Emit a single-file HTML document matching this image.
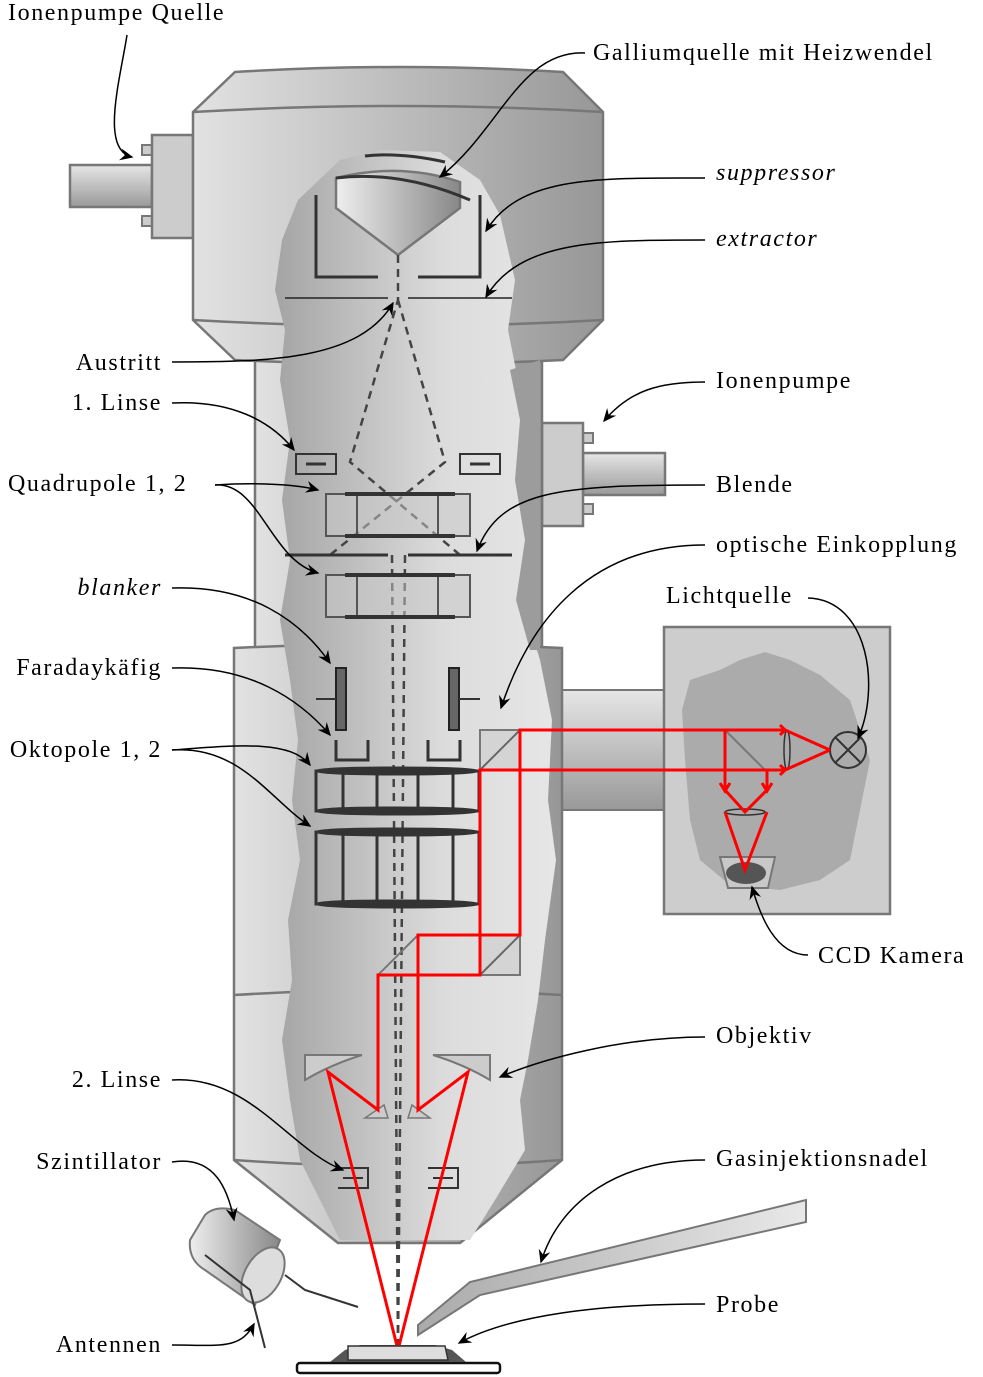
<!DOCTYPE html>
<html><head><meta charset="utf-8"><style>
html,body{margin:0;padding:0;background:#fff;}
svg{display:block;}
text{font-family:"Liberation Serif",serif;font-size:24px;letter-spacing:1.6px;fill:#000;}
.it{font-style:italic;}
.ar{fill:none;stroke:#000;stroke-width:1.5;marker-end:url(#ah);}
.dk{fill:none;stroke:#333;stroke-width:3;}
.rd{fill:none;stroke:#f00;stroke-width:3;}
.dash{fill:none;stroke:#444;stroke-width:2.5;stroke-dasharray:8,6;}
</style></head><body>
<svg width="983" height="1377" viewBox="0 0 983 1377">
<defs>
<marker id="ah" markerWidth="10" markerHeight="10" refX="8" refY="5" orient="auto"><path d="M0,1 L9,5 L0,9 L3,5z" fill="#000"/></marker>
<linearGradient id="outer" x1="0" x2="1"><stop offset="0" stop-color="#e2e2e2"/><stop offset="1" stop-color="#979797"/></linearGradient>
<linearGradient id="inner" x1="0" x2="1"><stop offset="0" stop-color="#a4a4a4"/><stop offset="0.6" stop-color="#dcdcdc"/><stop offset="1" stop-color="#e6e6e6"/></linearGradient>
<linearGradient id="tubeV" x1="0" y1="0" x2="0" y2="1"><stop offset="0" stop-color="#e6e6e6"/><stop offset="1" stop-color="#999"/></linearGradient>
<linearGradient id="cone" x1="0" x2="1"><stop offset="0" stop-color="#eee"/><stop offset="1" stop-color="#888"/></linearGradient>
<linearGradient id="needle" x1="0" x2="1"><stop offset="0" stop-color="#aaa"/><stop offset="1" stop-color="#e8e8e8"/></linearGradient>
</defs>

<g>
<rect x="70" y="165" width="82" height="42" fill="url(#tubeV)" stroke="#777" stroke-width="2.5"/>
<rect x="142" y="145" width="10" height="10" fill="#ccc" stroke="#777" stroke-width="2"/>
<rect x="142" y="216" width="10" height="10" fill="#ccc" stroke="#777" stroke-width="2"/>
<rect x="152" y="135" width="41" height="103" fill="#ccc" stroke="#777" stroke-width="2.5"/>
</g>
<g>
<rect x="583" y="453" width="82" height="42" fill="url(#tubeV)" stroke="#777" stroke-width="2.5"/>
<rect x="583" y="433" width="10" height="10" fill="#ccc" stroke="#777" stroke-width="2"/>
<rect x="583" y="504" width="10" height="10" fill="#ccc" stroke="#777" stroke-width="2"/>
<rect x="542" y="423" width="41" height="103" fill="#ccc" stroke="#777" stroke-width="2.5"/>
</g>
<rect x="560" y="690" width="105" height="120" fill="url(#tubeV)" stroke="#777" stroke-width="2"/>

<rect x="255" y="355" width="287" height="295" fill="url(#outer)" stroke="#777" stroke-width="2.5"/>
<path d="M193,112 L235,72 Q400,62 563,72 L603,112 L603,320 L563,360 Q400,368 235,360 L193,320 Z" fill="url(#outer)" stroke="#777" stroke-width="2.5"/>
<path d="M193,112 Q400,100 603,112 M193,320 Q400,332 603,320" fill="none" stroke="#777" stroke-width="2.5"/>
<path d="M234,648 Q400,640 562,648 L562,1160 L460,1243 L338,1243 L234,1160 Z" fill="url(#outer)" stroke="#777" stroke-width="2.5"/>
<path d="M234,995 Q400,985 562,995 M234,1160 Q400,1172 562,1160" fill="none" stroke="#777" stroke-width="2.5"/>

<path d="M340,160 L380,150 L440,152 L480,180 L500,215 L515,280 L508,330 L516,370 L525,420 L520,480 L530,540 L522,600 L540,660 L552,720 L548,800 L556,860 L545,940 L538,1000 L528,1060 L520,1100 L525,1150 L495,1200 L470,1240 L340,1240 L320,1200 L300,1160 L290,1100 L282,1040 L292,980 L288,920 L300,860 L292,800 L298,740 L290,680 L280,620 L290,560 L282,500 L290,440 L280,380 L285,330 L275,290 L282,240 L298,200 Z" fill="url(#inner)"/>
<path d="M510,370 L520,420 L515,480 L525,540 L516,600 L530,650 L540,650 L540,360 Z" fill="#9c9c9c"/>

<g>
<path d="M365,156 Q400,152 445,162" class="dk" stroke-width="3"/>
<path d="M336,178 Q400,162 460,182 L460,208 L398,255 L336,208 Z" fill="url(#cone)" stroke="#777" stroke-width="2.5"/>
<path d="M336,178 Q400,170 470,200" class="dk"/>
<path d="M316,195 L316,277 L378,277 M480,195 L480,277 L418,277" class="dk"/>
<path d="M285,298 L388,298 M408,298 L512,298" stroke="#222" stroke-width="1.5"/>
</g>

<path d="M398,255 L398,300 L350,462 L460,555 M398,300 L445,462 L330,555 M392,555 L398,1350 M405,555 L398,1350" class="dash"/>

<g>
<rect x="296" y="454" width="40" height="20" fill="none" stroke="#333" stroke-width="2"/>
<rect x="460" y="454" width="40" height="20" fill="none" stroke="#333" stroke-width="2"/>
<path d="M306,464 L326,464 M470,464 L490,464" stroke="#333" stroke-width="3"/>
</g>
<g>
<rect x="326" y="494" width="144" height="42" fill="rgba(200,200,200,0.5)" stroke="#555" stroke-width="2"/>
<path d="M357,494 L357,536 M438,494 L438,536" stroke="#555" stroke-width="2"/>
<path d="M345,494 L455,494 M345,536 L455,536" stroke="#333" stroke-width="4"/>
<rect x="326" y="575" width="144" height="42" fill="rgba(200,200,200,0.5)" stroke="#555" stroke-width="2"/>
<path d="M357,575 L357,617 M438,575 L438,617" stroke="#555" stroke-width="2"/>
<path d="M345,575 L455,575 M345,617 L455,617" stroke="#333" stroke-width="4"/>
</g>
<path d="M285,555 L388,555 M408,555 L512,555" stroke="#333" stroke-width="3"/>
<g>
<rect x="336" y="668" width="10" height="62" fill="#666" stroke="#222" stroke-width="2"/>
<rect x="449" y="668" width="10" height="62" fill="#666" stroke="#222" stroke-width="2"/>
<path d="M316,699 L336,699 M459,699 L480,699" stroke="#333" stroke-width="2"/>
</g>
<path d="M336,740 L336,760 L368,760 L368,740 M428,740 L428,760 L460,760 L460,740" class="dk"/>
<g fill="none" stroke="#333" stroke-width="3">
<rect x="316" y="771" width="163" height="40"/>
<path d="M343,771 L343,811 M377,771 L377,811 M418,771 L418,811 M453,771 L453,811"/>
<ellipse cx="397" cy="771" rx="81" ry="3"/><ellipse cx="397" cy="811" rx="81" ry="3"/>
<rect x="316" y="832" width="163" height="72"/>
<path d="M343,832 L343,904 M377,832 L377,904 M418,832 L418,904 M453,832 L453,904"/>
<ellipse cx="397" cy="832" rx="81" ry="3"/><ellipse cx="397" cy="904" rx="81" ry="3"/>
</g>
<g>
<rect x="480" y="730" width="40" height="40" fill="#d4d4d4" stroke="#777" stroke-width="2"/><path d="M480,770 L520,730" stroke="#666" stroke-width="2"/>
<rect x="480" y="935" width="40" height="40" fill="#d4d4d4" stroke="#777" stroke-width="2"/><path d="M480,975 L520,935" stroke="#666" stroke-width="2"/>
<path d="M378,975 L418,935" stroke="#777" stroke-width="2"/>
</g>
<g>
<path d="M305,1055 L362,1055 Q330,1065 305,1080 Z M490,1055 L433,1055 Q465,1065 490,1080 Z" fill="#ccc" stroke="#777" stroke-width="2"/>
<path d="M365,1118 L388,1118 L384,1105 Z M430,1118 L408,1118 L412,1105 Z" fill="#ccc" stroke="#777" stroke-width="1.5"/>
</g>
<g>
<path d="M338,1168 L368,1168 L368,1188 L338,1188 M428,1168 L458,1168 L458,1188 L428,1188 M343,1178 L363,1178 M433,1178 L453,1178" fill="none" stroke="#333" stroke-width="2"/>
</g>

<g>
<rect x="664" y="627" width="226" height="287" fill="#cdcdcd" stroke="#777" stroke-width="2.5"/>
<path d="M690,680 L720,670 L740,660 L765,652 L790,660 L820,675 L850,700 L870,760 L860,810 L850,860 L820,880 L780,890 L730,885 L700,860 L690,820 L685,760 L682,710 Z" fill="#ababab"/>
<path d="M725,730 L765,770" stroke="#777" stroke-width="2"/>
<ellipse cx="745" cy="812" rx="20" ry="3" fill="none" stroke="#333" stroke-width="1.5"/>
<ellipse cx="787" cy="750" rx="3" ry="20" fill="none" stroke="#333" stroke-width="1.5"/>
<path d="M720,857 L775,857 L768,888 L728,888 Z" fill="#c8c8c8" stroke="#777" stroke-width="2"/>
<ellipse cx="746" cy="873" rx="20" ry="11" fill="#555"/>
<g><circle cx="848" cy="750" r="18" fill="none" stroke="#333" stroke-width="2"/><path d="M835,737 L861,763 M861,737 L835,763" stroke="#333" stroke-width="2"/></g>
</g>

<g>
<path d="M830,750 L785,730 L520,730 L520,935 L418,935 L418,1110 L468,1072 L398,1350 L328,1072 L378,1110 L378,975 L480,975 L480,770 L785,770 L830,750" class="rd"/>
<path d="M725,730 L725,790 M767,770 L767,790 M725,790 L745,812 L767,790 M725,812 L745,870 L767,812 M720,783 L725,791 L730,783 M762,783 L767,791 L772,783 M780,725 L785,730 L780,735 M780,765 L785,770 L780,775" class="rd" stroke-width="2.5"/>
</g>

<g>
<path d="M190,1240 L205,1215 Q215,1205 235,1210 L280,1240 L255,1305 L205,1270 Q188,1260 190,1240 Z" fill="url(#cone)" stroke="#777" stroke-width="2"/>
<ellipse cx="263" cy="1275" rx="18" ry="30" transform="rotate(30 263 1275)" fill="#ddd" stroke="#777" stroke-width="2"/>
<path d="M205,1255 L250,1290 L265,1348 M285,1275 L305,1290 L358,1307" fill="none" stroke="#333" stroke-width="2"/>
</g>
<path d="M418,1325 L470,1282 L806,1200 L806,1222 L480,1295 L418,1335 Z" fill="url(#needle)" stroke="#777" stroke-width="2"/>
<g>
<rect x="297" y="1363" width="203" height="10" rx="3" fill="#fff" stroke="#111" stroke-width="2.5"/>
<path d="M330,1362 L345,1350 L360,1345 L435,1345 L452,1350 L466,1362 Z" fill="#555"/>
<path d="M348,1360 L348,1346 L445,1346 L448,1360 Z" fill="#ddd" stroke="#333" stroke-width="1.5"/>
</g>

<g>
<text x="8" y="20">Ionenpumpe Quelle</text>
<text x="593" y="60">Galliumquelle mit Heizwendel</text>
<text x="716" y="180" class="it">suppressor</text>
<text x="716" y="246" class="it">extractor</text>
<text x="162" y="370" text-anchor="end">Austritt</text>
<text x="716" y="388">Ionenpumpe</text>
<text x="162" y="410" text-anchor="end">1. Linse</text>
<text x="8" y="491">Quadrupole 1, 2</text>
<text x="716" y="492">Blende</text>
<text x="716" y="552">optische Einkopplung</text>
<text x="162" y="595" text-anchor="end" class="it">blanker</text>
<text x="666" y="603">Lichtquelle</text>
<text x="162" y="675" text-anchor="end">Faradaykäfig</text>
<text x="162" y="757" text-anchor="end">Oktopole 1, 2</text>
<text x="818" y="963">CCD Kamera</text>
<text x="716" y="1043">Objektiv</text>
<text x="162" y="1087" text-anchor="end">2. Linse</text>
<text x="716" y="1166">Gasinjektionsnadel</text>
<text x="162" y="1169" text-anchor="end">Szintillator</text>
<text x="716" y="1312">Probe</text>
<text x="162" y="1352" text-anchor="end">Antennen</text>
</g>

<g>
<path class="ar" d="M127,35 C120,80 100,150 132,157"/>
<path class="ar" d="M585,53 C520,50 500,130 440,177"/>
<path class="ar" d="M705,178 C600,178 520,175 486,231"/>
<path class="ar" d="M705,240 C600,240 520,240 486,297"/>
<path class="ar" d="M172,362 C270,362 360,360 393,303"/>
<path class="ar" d="M705,382 C660,382 630,390 604,421"/>
<path class="ar" d="M172,403 C230,400 270,420 294,450"/>
<path class="ar" d="M215,485 C260,482 300,485 318,490"/>
<path class="ar" d="M215,485 C260,482 270,560 318,573"/>
<path class="ar" d="M705,485 C560,485 500,490 477,551"/>
<path class="ar" d="M705,545 C590,545 530,620 501,708"/>
<path class="ar" d="M172,588 C250,585 300,620 330,663"/>
<path class="ar" d="M808,598 C870,600 880,690 858,738"/>
<path class="ar" d="M172,668 C250,665 300,700 330,735"/>
<path class="ar" d="M172,750 C240,745 290,740 310,765"/>
<path class="ar" d="M172,750 C240,745 270,800 310,826"/>
<path class="ar" d="M808,955 C775,955 760,915 752,887"/>
<path class="ar" d="M705,1037 C620,1037 540,1060 500,1077"/>
<path class="ar" d="M172,1080 C250,1075 290,1150 343,1170"/>
<path class="ar" d="M705,1160 C620,1160 560,1200 541,1262"/>
<path class="ar" d="M172,1162 C215,1155 228,1190 234,1220"/>
<path class="ar" d="M705,1304 C600,1304 510,1315 459,1343"/>
<path class="ar" d="M172,1345 C220,1345 240,1350 254,1324"/>
</g>
</svg>
</body></html>
